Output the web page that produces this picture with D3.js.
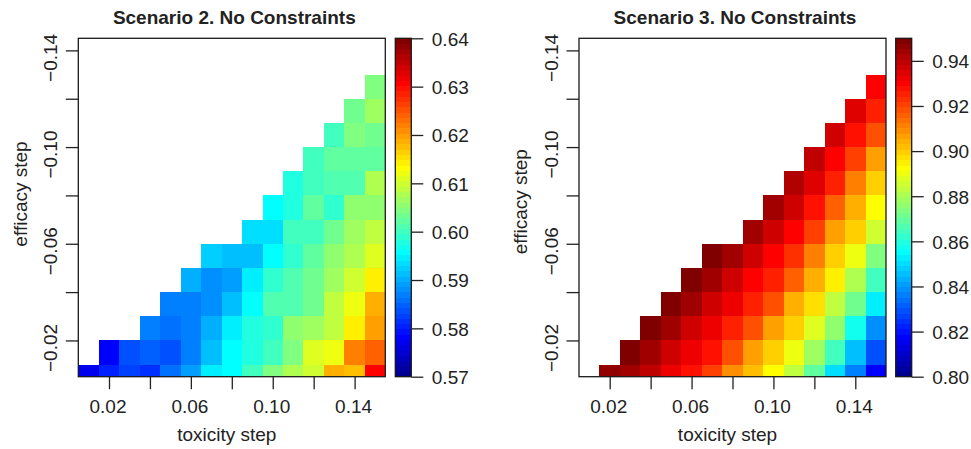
<!DOCTYPE html>
<html>
<head>
<meta charset="utf-8">
<script src="https://cdn.jsdelivr.net/npm/d3@7"></script>
<style>
  body { margin: 0; background: #fff; }
  svg { display: block; font-family: "Liberation Sans", Arial, Helvetica, sans-serif; }
  text { fill: #222; }
</style>
</head>
<body>
<div id="chart"></div>
<script>
// grid: toxicity step along x, efficacy step along y
const toxicitySteps = [0.01, 0.02, 0.03, 0.04, 0.05, 0.06, 0.07, 0.08, 0.09, 0.10, 0.11, 0.12, 0.13, 0.14, 0.15];
const efficacySteps = [-0.01, -0.02, -0.03, -0.04, -0.05, -0.06, -0.07, -0.08, -0.09, -0.10, -0.11, -0.12, -0.13];

// values per toxicity column, listed from efficacy -0.01 upward
const scenario2 = [
  [0.5771],
  [0.5804, 0.5782],
  [0.5826, 0.5837],
  [0.5815, 0.5848, 0.5870],
  [0.5859, 0.5837, 0.5859, 0.5870],
  [0.5891, 0.5870, 0.5870, 0.5870, 0.5902],
  [0.5946, 0.5913, 0.5902, 0.5880, 0.5880, 0.5924],
  [0.5957, 0.5957, 0.5946, 0.5913, 0.5891, 0.5913],
  [0.6001, 0.5979, 0.5979, 0.5957, 0.5946, 0.5913, 0.5935],
  [0.6045, 0.6001, 0.5990, 0.6012, 0.5990, 0.5957, 0.5935, 0.5957],
  [0.6077, 0.6045, 0.6055, 0.6012, 0.6012, 0.5990, 0.6001, 0.5979, 0.5979],
  [0.6099, 0.6110, 0.6066, 0.6034, 0.6034, 0.6023, 0.6001, 0.6023, 0.6001, 0.6001],
  [0.6187, 0.6121, 0.6088, 0.6088, 0.6066, 0.6055, 0.6034, 0.5990, 0.6012, 0.6023, 0.6001],
  [0.6176, 0.6220, 0.6143, 0.6121, 0.6099, 0.6077, 0.6066, 0.6055, 0.6012, 0.6023, 0.6045, 0.6034],
  [0.6307, 0.6241, 0.6198, 0.6187, 0.6143, 0.6110, 0.6088, 0.6055, 0.6077, 0.6023, 0.6034, 0.6066, 0.6045]
];

const scenario3 = [
  [],
  [0.9465],
  [0.9441, 0.9488],
  [0.9395, 0.9441, 0.9488],
  [0.9324, 0.9371, 0.9441, 0.9488],
  [0.9277, 0.9324, 0.9371, 0.9441, 0.9488],
  [0.9207, 0.9277, 0.9324, 0.9371, 0.9441, 0.9488],
  [0.9090, 0.9184, 0.9254, 0.9324, 0.9371, 0.9441],
  [0.9020, 0.9066, 0.9184, 0.9254, 0.9301, 0.9371, 0.9441],
  [0.8926, 0.8996, 0.9066, 0.9184, 0.9254, 0.9301, 0.9371, 0.9441],
  [0.8832, 0.8902, 0.8996, 0.9043, 0.9160, 0.9230, 0.9301, 0.9371, 0.9418],
  [0.8691, 0.8785, 0.8879, 0.8973, 0.9043, 0.9113, 0.9207, 0.9277, 0.9348, 0.9395],
  [0.8504, 0.8645, 0.8762, 0.8832, 0.8949, 0.8996, 0.9066, 0.9160, 0.9254, 0.9301, 0.9371],
  [0.8363, 0.8457, 0.8574, 0.8715, 0.8809, 0.8902, 0.8996, 0.9043, 0.9113, 0.9207, 0.9277, 0.9348],
  [0.8176, 0.8293, 0.8387, 0.8527, 0.8645, 0.8738, 0.8855, 0.8926, 0.8996, 0.9066, 0.9184, 0.9254, 0.9301]
];

const xTicks = [0.02, 0.04, 0.06, 0.08, 0.10, 0.12, 0.14];
const xLabelled = [0.02, 0.06, 0.10, 0.14];
const yTicks = [-0.14, -0.12, -0.10, -0.08, -0.06, -0.04, -0.02];
const yLabelled = [-0.14, -0.10, -0.06, -0.02];
const legendTicks2 = [0.57, 0.58, 0.59, 0.60, 0.61, 0.62, 0.63, 0.64];
const legendTicks3 = [0.80, 0.82, 0.84, 0.86, 0.88, 0.90, 0.92, 0.94];

const titles = ["Scenario 2. No Constraints", "Scenario 3. No Constraints"];
const zRanges = [[0.57, 0.64], [0.80, 0.95]];

// 64 step "tim.colors" style palette
const jetStops = d3.scaleLinear()
  .domain([0, 7, 23, 39, 55, 63])
  .range(["#00008F", "#0000FF", "#00FFFF", "#FFFF00", "#FF0000", "#800000"])
  .interpolate(d3.interpolateRgb);
const jet64 = d3.range(64).map(i => d3.rgb(jetStops(i)).formatHex());

const W = 971, H = 449;
const fs = 19;

const svg = d3.select("#chart").append("svg")
  .attr("width", W)
  .attr("height", H);

const panels = [
  { title: titles[0], data: scenario2, z: zRanges[0], legendTicks: legendTicks2, left: 78.3, right: 385.3, barX: 395.3, titleY: 194 },
  { title: titles[1], data: scenario3, z: zRanges[1], legendTicks: legendTicks3, left: 579, right: 886, barX: 895.7, titleY: 201.7 }
];

const plotTop = 38.3, plotBottom = 376.7;
const fmt = d3.format(".2f");
const minusFmt = d => fmt(d).replace("-", "\u2212");

panels.forEach((p, pi) => {
  const x = d3.scaleLinear().domain([0.005, 0.155]).range([p.left, p.right]);
  const y = d3.scaleLinear().domain([-0.145, -0.005]).range([plotTop, plotBottom]);
  const color = d3.scaleQuantize().domain(p.z).range(jet64);

  const g = svg.append("g").attr("class", "panel" + pi);

  g.append("clipPath").attr("id", "clip" + pi)
    .append("rect")
    .attr("x", p.left).attr("y", plotTop)
    .attr("width", p.right - p.left).attr("height", plotBottom - plotTop);

  const cells = [];
  p.data.forEach((col, ci) => {
    col.forEach((v, ri) => cells.push({ t: toxicitySteps[ci], e: efficacySteps[ri], v: v }));
  });

  g.append("g")
    .attr("clip-path", `url(#clip${pi})`)
    .selectAll("rect.cell")
    .data(cells)
    .join("rect")
    .attr("class", "cell")
    .attr("x", d => x(d.t - 0.005))
    .attr("width", d => x(d.t + 0.005) - x(d.t - 0.005))
    .attr("y", d => y(d.e))
    .attr("height", d => y(d.e + 0.01) - y(d.e))
    .attr("fill", d => color(d.v))
    .attr("shape-rendering", "crispEdges");

  // x axis
  const xAxis = g.append("g")
    .attr("transform", `translate(0,${plotBottom})`)
    .call(d3.axisBottom(x).tickValues(xTicks).tickSize(12.5).tickPadding(10)
      .tickFormat(d => xLabelled.some(v => Math.abs(v - d) < 1e-9) ? fmt(d) : ""));
  xAxis.select(".domain").remove();
  xAxis.selectAll(".tick line").attr("stroke", "#222").attr("stroke-width", 1.3);
  xAxis.selectAll(".tick text")
    .attr("font-size", fs)
    .attr("fill", "#222")
    .attr("x", -1.5);

  // y axis with rotated labels
  const yAxis = g.append("g")
    .attr("transform", `translate(${p.left},0)`)
    .call(d3.axisLeft(y).tickValues(yTicks).tickSize(12.5)
      .tickFormat(d => yLabelled.some(v => Math.abs(v - d) < 1e-9) ? minusFmt(d) : ""));
  yAxis.select(".domain").remove();
  yAxis.selectAll(".tick line").attr("stroke", "#222").attr("stroke-width", 1.3);
  yAxis.selectAll(".tick text")
    .attr("font-size", fs)
    .attr("fill", "#222")
    .attr("x", null)
    .attr("dy", null)
    .attr("text-anchor", "middle")
    .attr("transform", "translate(-21.5,7) rotate(-90)");

  // box
  g.append("rect")
    .attr("x", p.left).attr("y", plotTop)
    .attr("width", p.right - p.left).attr("height", plotBottom - plotTop)
    .attr("fill", "none")
    .attr("stroke", "#1a1a1a")
    .attr("stroke-width", 1.3);

  // titles
  g.append("text")
    .attr("x", (p.left + p.right) / 2 + 2.5)
    .attr("y", 24)
    .attr("text-anchor", "middle")
    .attr("font-size", fs)
    .attr("font-weight", "bold")
    .text(p.title);

  g.append("text")
    .attr("x", (p.left + p.right) / 2 - 5)
    .attr("y", 440.7)
    .attr("text-anchor", "middle")
    .attr("font-size", fs)
    .text("toxicity step");

  g.append("text")
    .attr("transform", `translate(${p.left - 51.8},${p.titleY}) rotate(-90)`)
    .attr("text-anchor", "middle")
    .attr("font-size", fs)
    .text("efficacy step");

  // colour legend
  const barW = 16;
  const cb = d3.scaleLinear().domain(p.z).range([plotBottom, plotTop]);
  const bandW = (p.z[1] - p.z[0]) / 64;
  g.append("g")
    .selectAll("rect")
    .data(jet64)
    .join("rect")
    .attr("x", p.barX)
    .attr("width", barW)
    .attr("y", (c, i) => cb(p.z[0] + (i + 1) * bandW))
    .attr("height", (c, i) => cb(p.z[0] + i * bandW) - cb(p.z[0] + (i + 1) * bandW) + 0.3)
    .attr("fill", c => c)
    .attr("shape-rendering", "crispEdges");

  g.append("rect")
    .attr("x", p.barX).attr("y", plotTop)
    .attr("width", barW).attr("height", plotBottom - plotTop)
    .attr("fill", "none")
    .attr("stroke", "#1a1a1a")
    .attr("stroke-width", 1.3);

  const lAxis = g.append("g")
    .attr("transform", `translate(${p.barX + barW},0)`)
    .call(d3.axisRight(cb).tickValues(p.legendTicks).tickSize(12).tickPadding(8.5).tickFormat(fmt));
  lAxis.select(".domain").remove();
  lAxis.selectAll(".tick line").attr("stroke", "#222").attr("stroke-width", 1.3);
  lAxis.selectAll(".tick text")
    .attr("font-size", fs)
    .attr("fill", "#222")
    .attr("dy", "0.36em");
});
</script>
</body>
</html>
